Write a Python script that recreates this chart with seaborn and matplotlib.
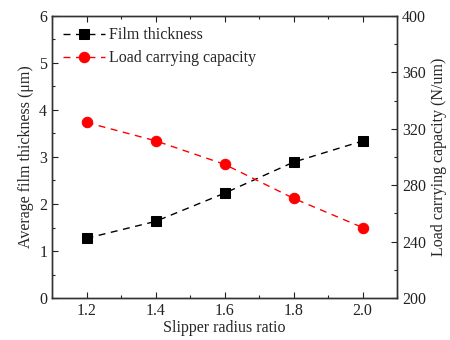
import matplotlib
matplotlib.use("Agg")
import matplotlib.pyplot as plt
from matplotlib.ticker import MultipleLocator
import seaborn as sns
import pandas as pd

radius_ratio = [1.2, 1.4, 1.6, 1.8, 2.0]
film_thickness = [1.27, 1.63, 2.23, 2.89, 3.34]
load_capacity = [324.5, 311.5, 294.8, 270.7, 250.0]

sns.set_style("ticks")
plt.rcParams["font.family"] = ["Liberation Serif", "DejaVu Serif"]
plt.rcParams["mathtext.fontset"] = "stix"

df = pd.DataFrame({"ratio": radius_ratio, "film": film_thickness, "load": load_capacity})

fig = plt.figure(figsize=(4.5, 3.4), dpi=100)
ax = fig.add_axes([0.1156, 0.1235, 0.7667, 0.8295])
ax2 = ax.twinx()

sns.lineplot(data=df, x="ratio", y="film", ax=ax, color="black", marker="s",
             markersize=6.5, markeredgecolor="black", linestyle=(0, (5, 4)),
             linewidth=1, label="Film thickness", legend=False)
sns.lineplot(data=df, x="ratio", y="load", ax=ax2, color="red", marker="o",
             markersize=7.5, markeredgecolor="red", linestyle=(0, (5, 4)),
             linewidth=1, label="Load carrying capacity", legend=False)

ax.set_xlim(1.1, 2.1)
ax.set_ylim(0, 6)
ax2.set_ylim(200, 400)
ax.xaxis.set_major_locator(MultipleLocator(0.2))
ax.xaxis.set_minor_locator(MultipleLocator(0.1))
ax.yaxis.set_major_locator(MultipleLocator(1))
ax.yaxis.set_minor_locator(MultipleLocator(0.5))
ax2.yaxis.set_major_locator(MultipleLocator(40))
ax2.yaxis.set_minor_locator(MultipleLocator(20))
ax.set_xticks([1.2, 1.4, 1.6, 1.8, 2.0])
ax.set_xticklabels(["1.2", "1.4", "1.6", "1.8", "2.0"])

fs = 11.5
ax.set_xlabel("Slipper radius ratio", fontsize=fs, labelpad=1)
ax.set_ylabel("Average film thickness (\u03bcm)", fontsize=fs, labelpad=4)
ax2.set_ylabel("Load carrying capacity (N/um)", fontsize=fs, labelpad=4)

for a in (ax, ax2):
    for s in a.spines.values():
        s.set_visible(True)
        s.set_linewidth(1)
        s.set_color("#333333")
    a.tick_params(which="both", direction="in", labelsize=fs, colors="#222222")
    a.tick_params(which="major", length=4, width=0.8)
    a.tick_params(which="minor", length=2, width=0.8)
ax.tick_params(axis="x", which="both", top=True)
ax.tick_params(axis="y", which="both", right=False)

h1, l1 = ax.get_legend_handles_labels()
h2, l2 = ax2.get_legend_handles_labels()
ax.legend(h1 + h2, l1 + l2, loc="upper left", frameon=False, fontsize=fs,
          handlelength=2.6, borderaxespad=0.3, labelspacing=0.45, handletextpad=0.25)

fig.savefig("out.png", dpi=100)
